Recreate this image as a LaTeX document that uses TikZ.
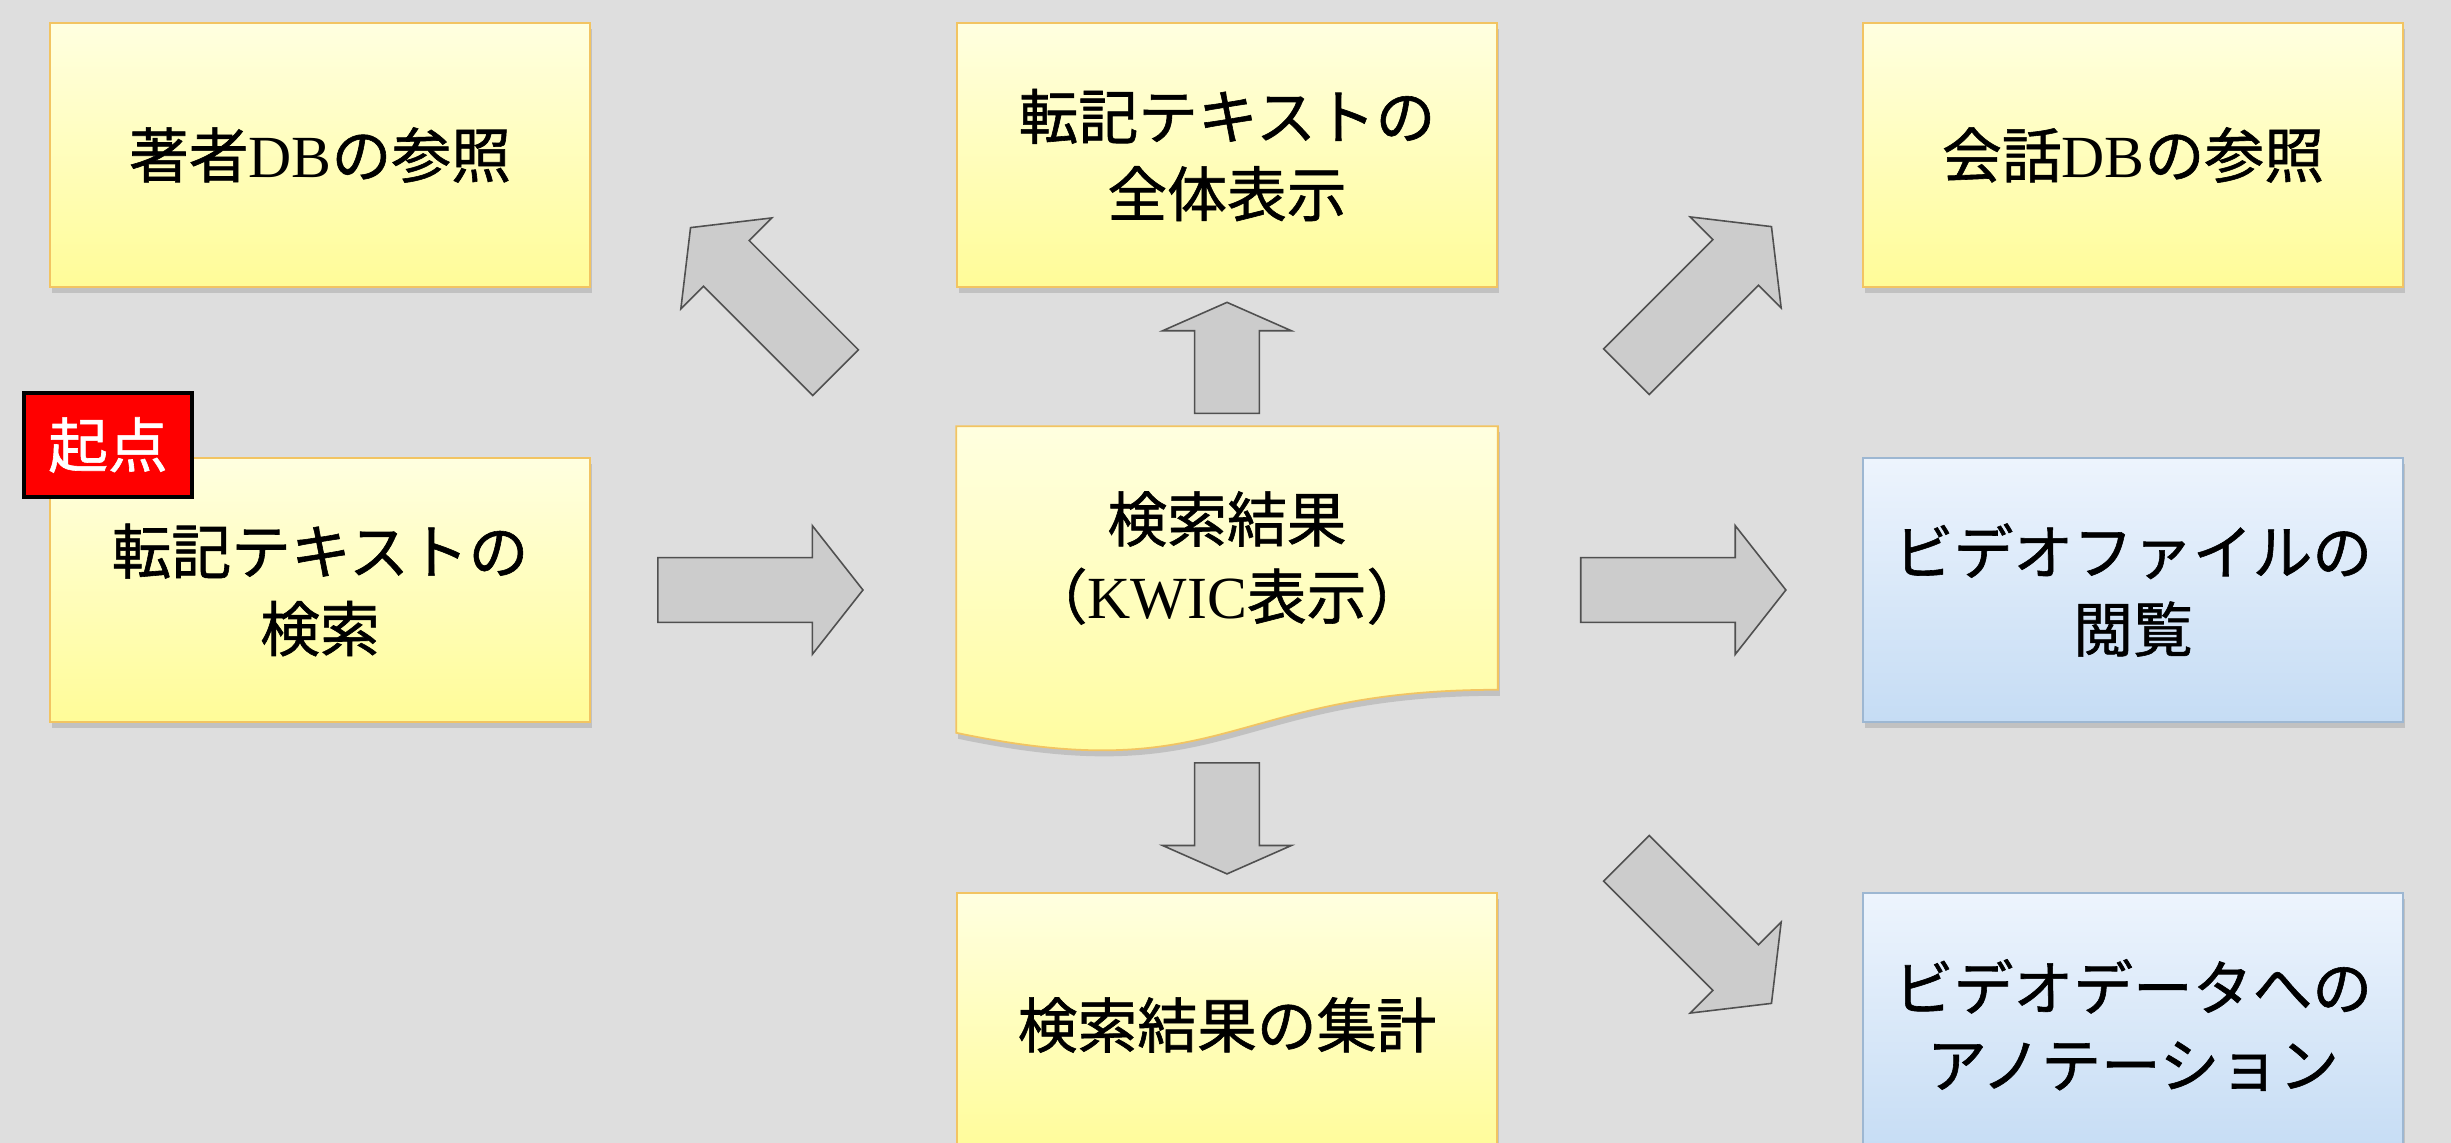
\documentclass[tikz,border=0pt]{standalone}
\usepackage{fontspec}
\setmainfont{Liberation Serif}
\newfontfamily\jpfont[FakeBold=1]{Noto Sans CJK JP}
\usetikzlibrary{positioning,calc,shapes.arrows,shadows,backgrounds}

\definecolor{bggray}{HTML}{DEDEDE}
\definecolor{noteTop}{HTML}{FFFFE0}
\definecolor{noteBot}{HTML}{FFFC98}
\definecolor{noteLine}{HTML}{F2C462}
\definecolor{vidTop}{HTML}{EDF4FD}
\definecolor{vidBot}{HTML}{C5DCF4}
\definecolor{vidLine}{HTML}{9DB7D2}
\definecolor{arrFill}{HTML}{CCCCCC}
\definecolor{arrLine}{HTML}{505050}

\newcommand{\eng}[1]{{\rmfamily #1}}

\tikzset{
  notetext/.style={align=center, font=\jpfont\fontsize{17pt}{22pt}\selectfont},
  notefill/.style={draw=noteLine, line width=0.5pt, top color=noteTop, bottom color=noteBot,
    drop shadow={shadow xshift=0.02cm, shadow yshift=-0.06cm, opacity=0.3}},
  note/.style={rectangle, notefill, notetext, minimum width=5.4cm, minimum height=2.64cm},
  video/.style={note, draw=vidLine, top color=vidTop, bottom color=vidBot},
  flow/.style={single arrow, draw=arrLine, fill=arrFill, line width=0.45pt,
    inner xsep=0pt, inner ysep=0.315cm,
    minimum height=2.05cm, minimum width=1.27cm, single arrow head extend=0.32cm,
    single arrow tip angle=103.6},
  flowshort/.style={flow, minimum height=1.11cm, single arrow tip angle=132.4}
}

\begin{document}
\begin{tikzpicture}[x=0.01cm, y=-0.01cm]
  \useasboundingbox (0,0) rectangle (2451,1143);
  \clip (0,0) rectangle (2451,1143);
  \begin{scope}[on background layer]
    \fill[bggray] (0,0) rectangle (2451,1143);
  \end{scope}

  % top row
  \node[note] (author) at (320,155) {著者\eng{DB}の参照};
  \node[note] (fulltext) at (1227,155) {転記テキストの\\全体表示};
  \node[note] (convdb) at (2133,155) {会話\eng{DB}の参照};

  % middle row
  \node[note] (search) at (320,590) {転記テキストの\\検索};
  \node[notetext, minimum width=5.4cm, minimum height=2.62cm] (kwic) at (1227,558)
    {検索結果\\（\eng{KWIC}表示）};
  \begin{scope}[on background layer]
    \path[notefill] (kwic.north west) -- (kwic.north east) -- (kwic.south east)
      .. controls (kwic.south) and ($(kwic.south)+(0,100)$) .. ($(kwic.south west)+(0,43)$) -- cycle;
  \end{scope}
  \node[video] (videoview) at (2133,590) {ビデオファイルの\\閲覧};

  % bottom row
  \node[note] (summary) at (1227,1025) {検索結果の集計};
  \node[video] (annot) at (2133,1025) {ビデオデータへの\\アノテーション};

  \node[draw=black, line width=1pt, fill=red, text=white, inner sep=0pt,
    minimum width=1.68cm, minimum height=1.04cm, notetext] (start) at (108,445) {起点};

  % block arrows
  \node[flow, anchor=tail] (s2k) at ($(search.east)+(66,0)$) {};
  \node[flow, anchor=tail] (k2v) at ($(videoview.west)+(-282,0)$) {};
  \node[flowshort, rotate=90, anchor=tail] (k2f) at ($(kwic.north)+(0,-12)$) {};
  \node[flowshort, rotate=-90, anchor=tail] (k2s) at ($(summary.north)+(0,-130)$) {};
  \node[flow, rotate=135, anchor=tail] (k2a) at ($(kwic.north west)+(-120,-53)$) {};
  \node[flow, rotate=45, anchor=tail] (k2c) at ($(kwic.north east)+(128,-54)$) {};
  \node[flow, rotate=-45, anchor=tail] (k2n) at ($(kwic.south east)+(128,168)$) {};
\end{tikzpicture}
\end{document}
